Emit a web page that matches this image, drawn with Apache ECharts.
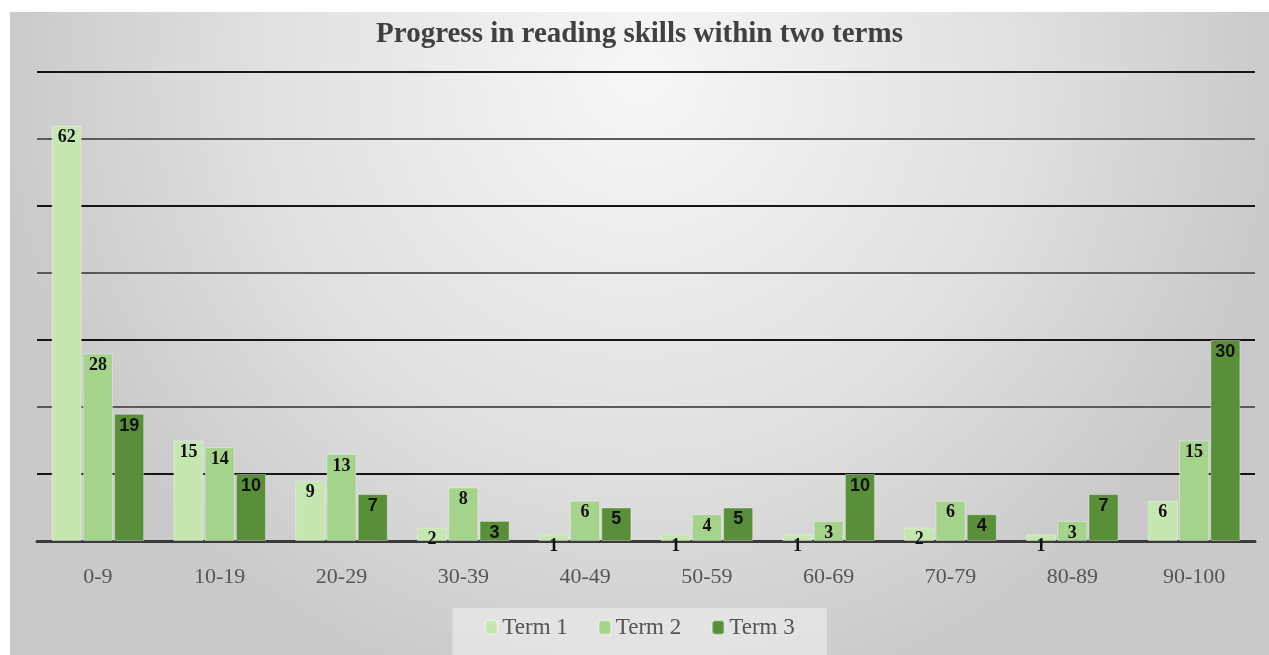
<!DOCTYPE html>
<html>
<head>
<meta charset="utf-8">
<script src="https://cdn.jsdelivr.net/npm/echarts@6/dist/echarts.min.js"></script>
<style>
  html, body { margin: 0; padding: 0; background: #ffffff; }
  #chart { position: absolute; left: 10px; top: 12px; width: 1259px; height: 643px; }
</style>
</head>
<body>
<div id="chart"></div>
<script>
// Score bands and the number of pupils in each band per term
const categories = ['0-9', '10-19', '20-29', '30-39', '40-49', '50-59', '60-69', '70-79', '80-89', '90-100'];
const term1 = [62, 15, 9, 2, 1, 1, 1, 2, 1, 6];
const term2 = [28, 14, 13, 8, 6, 4, 3, 6, 3, 15];
const term3 = [19, 10, 7, 3, 5, 5, 10, 4, 7, 30];
const seriesNames = ['Term 1', 'Term 2', 'Term 3'];

const chart = echarts.init(document.getElementById('chart'));

const serif = '"Liberation Serif", "Times New Roman", serif';
const sans = '"Liberation Sans", Arial, sans-serif';

function barSeries(name, data, color, labelFont) {
  return {
    name: name,
    type: 'bar',
    data: data,
    barGap: '4%',
    barCategoryGap: '24%',
    itemStyle: { color: color, borderColor: 'rgba(255,255,255,0.35)', borderWidth: 1 },
    label: {
      show: true,
      position: 'insideTop',
      distance: 3,
      color: '#111',
      fontFamily: labelFont,
      fontWeight: 'bold',
      fontSize: 18
    }
  };
}

chart.setOption({
  backgroundColor: {
    type: 'radial', x: 0.5, y: 0.1, r: 1.0,
    colorStops: [
      { offset: 0, color: '#f7f7f7' },
      { offset: 0.6, color: '#e0e0e0' },
      { offset: 1, color: '#c9c9c9' }
    ]
  },
  title: {
    text: 'Progress in reading skills within two terms',
    left: 'center',
    top: 3,
    textStyle: { fontFamily: serif, fontWeight: 'bold', fontSize: 29, color: '#404040' }
  },
  legend: {
    data: seriesNames,
    bottom: 0,
    left: 'center',
    padding: [8, 32, 16, 32],
    backgroundColor: 'rgba(240,240,240,0.6)',
    itemWidth: 12,
    itemHeight: 14,
    itemGap: 30,
    textStyle: { fontFamily: serif, fontSize: 23, color: '#555' }
  },
  grid: { left: 27, right: 14, top: 60, bottom: 114, containLabel: false },
  xAxis: {
    type: 'category',
    data: categories,
    axisTick: { show: false },
    axisLine: { show: true, lineStyle: { color: '#3a3a3a', width: 3 } },
    axisLabel: { fontFamily: serif, fontSize: 22, color: '#555', margin: 25 }
  },
  yAxis: {
    type: 'value',
    min: 0,
    max: 70,
    interval: 10,
    axisLabel: { show: false },
    axisLine: { show: false },
    axisTick: { show: false },
    splitLine: { lineStyle: { color: ['#5a5a5a', '#151515'], width: 2 } }
  },
  series: [
    barSeries(seriesNames[0], term1, '#c6e6b2', serif),
    barSeries(seriesNames[1], term2, '#a5d38b', serif),
    barSeries(seriesNames[2], term3, '#5a8f3a', sans)
  ]
});
</script>
</body>
</html>
